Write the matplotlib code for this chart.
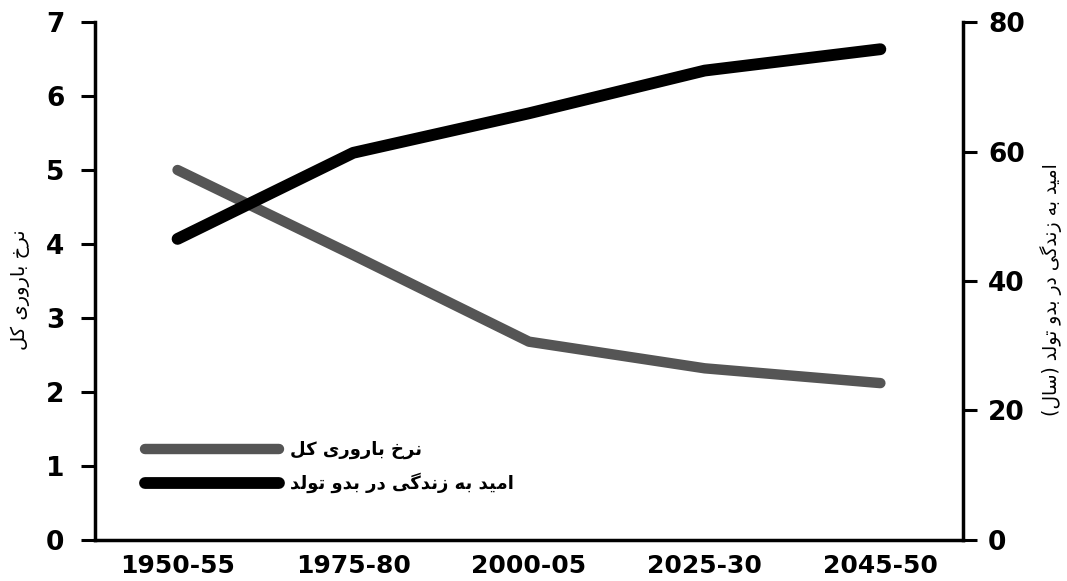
import matplotlib
matplotlib.use("Agg")
import matplotlib.pyplot as plt

# data
periods = ["1950-55", "1975-80", "2000-05", "2025-30", "2045-50"]
fertility = [5.0, 3.85, 2.68, 2.32, 2.12]        # left axis
life_expectancy = [46.5, 59.8, 65.9, 72.5, 75.8]  # right axis (years)

label_fertility = "نرخ باروری کل"
label_life = "امید به زندگی در بدو تولد"
ylabel_right = "امید به زندگی در بدو تولد (سال)"

# matplotlib does no Arabic shaping, so pick presentation forms by hand
FORMS = {
    'ا': ('\uFE8D', '\uFE8E', None, None),
    'ب': ('\uFE8F', '\uFE90', '\uFE91', '\uFE92'),
    'ت': ('\uFE95', '\uFE96', '\uFE97', '\uFE98'),
    'خ': ('\uFEA5', '\uFEA6', '\uFEA7', '\uFEA8'),
    'د': ('\uFEA9', '\uFEAA', None, None),
    'ر': ('\uFEAD', '\uFEAE', None, None),
    'ز': ('\uFEAF', '\uFEB0', None, None),
    'س': ('\uFEB1', '\uFEB2', '\uFEB3', '\uFEB4'),
    'ل': ('\uFEDD', '\uFEDE', '\uFEDF', '\uFEE0'),
    'م': ('\uFEE1', '\uFEE2', '\uFEE3', '\uFEE4'),
    'ن': ('\uFEE5', '\uFEE6', '\uFEE7', '\uFEE8'),
    'ه': ('\uFEE9', '\uFEEA', '\uFEEB', '\uFEEC'),
    'و': ('\uFEED', '\uFEEE', None, None),
    'ی': ('\uFBFC', '\uFBFD', '\uFBFE', '\uFBFF'),
    'ک': ('\uFB8E', '\uFB8F', '\uFB90', '\uFB91'),
    'گ': ('\uFB92', '\uFB93', '\uFB94', '\uFB95'),
}


def fa(s):
    out = []
    for i, c in enumerate(s):
        if c not in FORMS:
            out.append(c)
            continue
        f = FORMS[c]
        prev = s[i - 1] if i > 0 else ''
        nxt = s[i + 1] if i + 1 < len(s) else ''
        join_prev = prev in FORMS and FORMS[prev][2] is not None
        join_next = f[2] is not None and nxt in FORMS
        if join_prev and join_next:
            out.append(f[3])
        elif join_prev:
            out.append(f[1])
        elif join_next:
            out.append(f[2])
        else:
            out.append(f[0])
    return ''.join(reversed(out)).translate(str.maketrans('()', ')('))


plt.rcParams['font.family'] = ['DejaVu Sans']

fig = plt.figure(figsize=(10.67, 5.81), dpi=100)
ax = fig.add_axes([0.089, 0.0706, 0.8135, 0.8915])
ax2 = ax.twinx()

x = list(range(len(periods)))
ax.plot(x, fertility, color='#555555', lw=7.5, solid_capstyle='round',
        solid_joinstyle='round', label=fa(label_fertility))
ax2.plot(x, life_expectancy, color='black', lw=8.5, solid_capstyle='round',
         solid_joinstyle='round', label=fa(label_life))

ax.set_xlim(-0.47, 4.47)
ax.set_ylim(0, 7)
ax2.set_ylim(0, 80)
ax.set_yticks(range(0, 8))
ax2.set_yticks(range(0, 81, 20))
ax.set_xticks(x)
ax.set_xticklabels(periods)

for a in (ax, ax2):
    a.spines['top'].set_visible(False)
    for s in a.spines.values():
        s.set_linewidth(2.5)
ax.spines['right'].set_visible(False)
ax2.spines['left'].set_visible(False)
ax2.spines['bottom'].set_visible(False)

ax.tick_params(axis='y', length=10, width=2.2, pad=12, labelsize=19)
ax2.tick_params(axis='y', length=10, width=2.2, pad=8, labelsize=19)
ax.tick_params(axis='x', length=0, pad=10, labelsize=18)
for lab in ax.get_xticklabels() + ax.get_yticklabels() + ax2.get_yticklabels():
    lab.set_fontweight('bold')

ax.set_ylabel(fa(label_fertility), fontsize=14)
ax.yaxis.set_label_coords(-0.075, 0.483)
ax2.set_ylabel(fa(ylabel_right), fontsize=13.5, rotation=90)
ax2.yaxis.set_label_coords(1.089, 0.483)

h1, l1 = ax.get_legend_handles_labels()
h2, l2 = ax2.get_legend_handles_labels()
leg = ax2.legend(h1 + h2, l1 + l2, loc='lower left', bbox_to_anchor=(0.058, 0.09),
                 frameon=False, fontsize=13, handlelength=7.4, handletextpad=0.6,
                 labelspacing=0.75, borderpad=0, borderaxespad=0)
for t in leg.get_texts():
    t.set_fontweight('bold')

fig.savefig("out.png", dpi=100)
